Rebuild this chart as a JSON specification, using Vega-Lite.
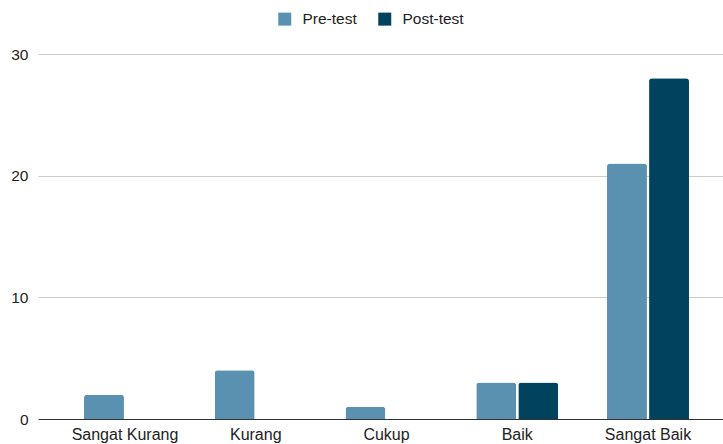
{
  "$schema": "https://vega.github.io/schema/vega-lite/v6.json",
  "width": 685,
  "height": 365,
  "autosize": {"type": "none"},
  "padding": {"left": 38, "top": 54, "right": 0, "bottom": 25},
  "background": "#ffffff",
  "config": {
    "view": {"stroke": null},
    "font": "Liberation Sans",
    "axis": {"labelFont": "Liberation Sans", "labelColor": "#222222"},
    "legend": {"labelFont": "Liberation Sans"}
  },
  "data": {
    "values": [
      {"kategori": "Sangat Kurang", "tes": "Pre-test", "nilai": 2},
      {"kategori": "Sangat Kurang", "tes": "Post-test", "nilai": 0},
      {"kategori": "Kurang", "tes": "Pre-test", "nilai": 4},
      {"kategori": "Kurang", "tes": "Post-test", "nilai": 0},
      {"kategori": "Cukup", "tes": "Pre-test", "nilai": 1},
      {"kategori": "Cukup", "tes": "Post-test", "nilai": 0},
      {"kategori": "Baik", "tes": "Pre-test", "nilai": 3},
      {"kategori": "Baik", "tes": "Post-test", "nilai": 3},
      {"kategori": "Sangat Baik", "tes": "Pre-test", "nilai": 21},
      {"kategori": "Sangat Baik", "tes": "Post-test", "nilai": 28}
    ]
  },
  "mark": {"type": "bar", "cornerRadiusTopLeft": 3, "cornerRadiusTopRight": 3},
  "encoding": {
    "x": {
      "field": "kategori",
      "type": "nominal",
      "sort": ["Sangat Kurang", "Kurang", "Cukup", "Baik", "Sangat Baik"],
      "scale": {"paddingInner": 0.373, "paddingOuter": 0.306, "align": 0.575},
      "axis": {
        "title": null,
        "labelAngle": 0,
        "labelFontSize": 16,
        "labelPadding": 7,
        "ticks": false,
        "domain": true,
        "domainColor": "#333333",
        "domainWidth": 1,
        "grid": false
      }
    },
    "xOffset": {
      "field": "tes",
      "type": "nominal",
      "sort": ["Pre-test", "Post-test"],
      "scale": {"paddingInner": 0.05}
    },
    "y": {
      "field": "nilai",
      "type": "quantitative",
      "scale": {"domain": [0, 30], "nice": false},
      "axis": {
        "title": null,
        "values": [0, 10, 20, 30],
        "labelFontSize": 15.5,
        "labelPadding": 10,
        "ticks": false,
        "domain": false,
        "gridColor": "#cccccc",
        "gridWidth": 1
      }
    },
    "color": {
      "field": "tes",
      "type": "nominal",
      "sort": ["Pre-test", "Post-test"],
      "scale": {"domain": ["Pre-test", "Post-test"], "range": ["#5a91b0", "#01435f"]},
      "legend": {
        "title": null,
        "orient": "none",
        "direction": "horizontal",
        "legendX": 239,
        "legendY": -43,
        "symbolType": "square",
        "symbolSize": 169,
        "symbolStrokeWidth": 0,
        "labelFontSize": 15.5,
        "labelColor": "#222222",
        "columnPadding": 20,
        "labelOffset": 10
      }
    }
  }
}
